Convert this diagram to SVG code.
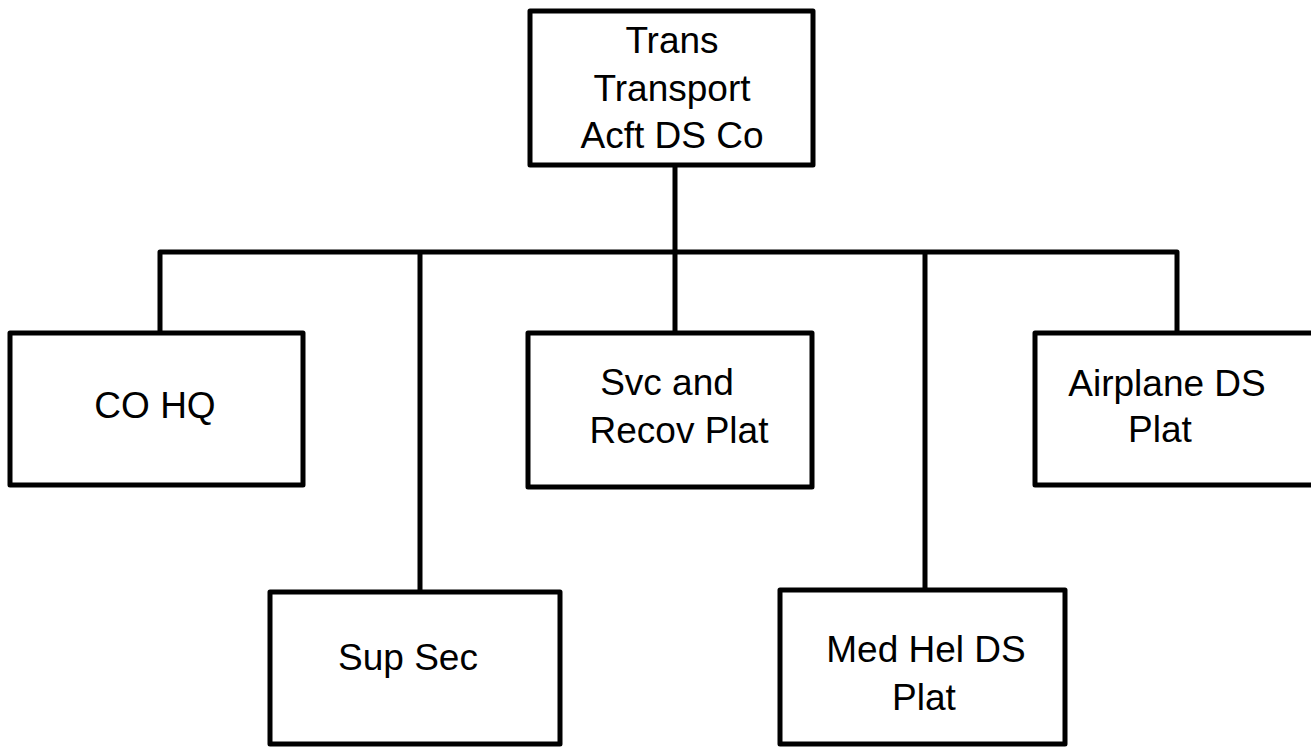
<svg xmlns="http://www.w3.org/2000/svg" width="1311" height="747" viewBox="0 0 1311 747">
<style>
.box{fill:#fff;stroke:#000;stroke-width:5;stroke-linejoin:round}
.ln{fill:none;stroke:#000;stroke-width:5;stroke-linejoin:round}
text{font-family:"Liberation Sans",Arial,sans-serif;font-size:37px;fill:#000;text-anchor:middle}
</style>
<rect width="1311" height="747" fill="#fff"/>
<g id="connectors">
<line class="ln" x1="675" y1="165" x2="675" y2="333"/>
<polyline class="ln" points="160,333 160,252 1177,252 1177,333"/>
<line class="ln" x1="420" y1="252" x2="420" y2="592"/>
<line class="ln" x1="925" y1="252" x2="925" y2="590"/>
</g>
<g id="top">
<rect class="box" x="530" y="11" width="283" height="154"/>
<text x="672" y="53">Trans</text>
<text x="672" y="101">Transport</text>
<text x="672" y="148">Acft DS Co</text>
</g>
<g id="cohq">
<rect class="box" x="10" y="333" width="293" height="152"/>
<text x="155" y="418">CO HQ</text>
</g>
<g id="svc">
<rect class="box" x="528" y="333" width="284" height="154"/>
<text x="667" y="395">Svc and</text>
<text x="679" y="443">Recov Plat</text>
</g>
<g id="airplane">
<rect class="box" x="1035" y="333" width="300" height="152"/>
<text x="1167" y="396">Airplane DS</text>
<text x="1160" y="442">Plat</text>
</g>
<g id="supsec">
<rect class="box" x="270" y="592" width="290" height="152"/>
<text x="408" y="670">Sup Sec</text>
</g>
<g id="medhel">
<rect class="box" x="780" y="590" width="285" height="154"/>
<text x="926" y="662">Med Hel DS</text>
<text x="924" y="710">Plat</text>
</g>
</svg>
